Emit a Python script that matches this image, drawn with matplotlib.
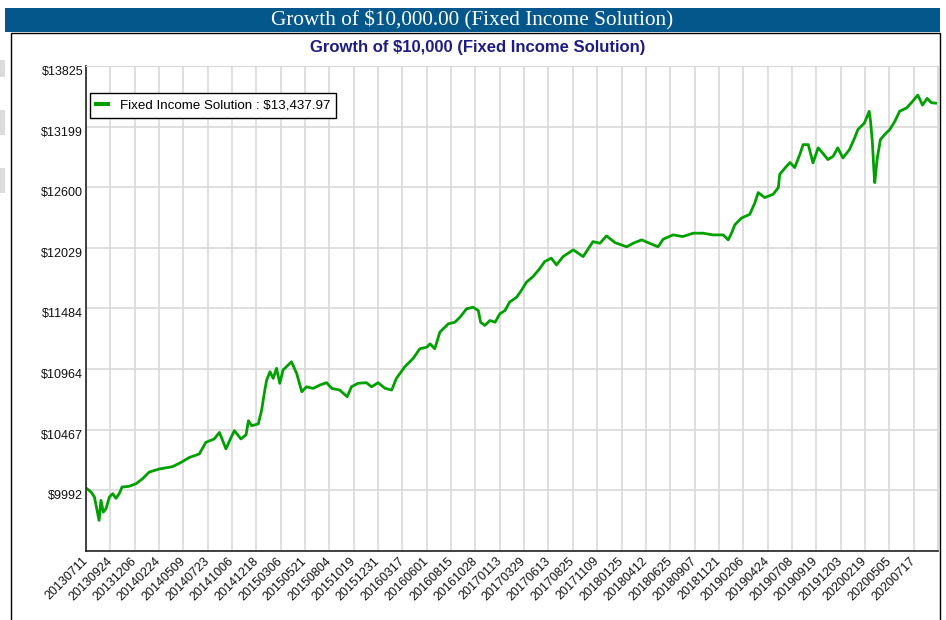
import numpy as np
from matplotlib import pyplot as plt
from matplotlib.patches import Rectangle
from matplotlib.ticker import FixedLocator, NullLocator

plt.rcParams['font.family'] = ['Liberation Sans', 'DejaVu Sans']

# trading-day index and account value
days = [0, 11, 18, 25, 28, 32, 37, 43, 50, 57, 64, 71, 77, 92, 107, 121, 135,
        157, 185, 203, 221, 242, 256, 274, 285, 299, 310, 317, 331, 342, 347,
        354, 368, 375, 382, 386, 393, 400, 407, 414, 421, 432, 439, 450, 461,
        471, 485, 500, 514, 525, 542, 558, 567, 581, 599, 610, 624, 639, 653,
        663, 671, 681, 699, 713, 728, 735, 745, 756, 774, 788, 799, 813, 827,
        838, 843, 852, 863, 874, 884, 895, 905, 920, 930, 941, 955, 970, 980,
        994, 1005, 1019, 1041, 1062, 1083, 1098, 1112, 1130, 1155, 1169, 1187,
        1204, 1222, 1233, 1254, 1275, 1297, 1318, 1340, 1361, 1372, 1379, 1386,
        1400, 1418, 1429, 1436, 1450, 1468, 1479, 1482, 1497, 1504, 1514, 1525,
        1532, 1543, 1553, 1564, 1574, 1585, 1596, 1606, 1617, 1631, 1642, 1649,
        1663, 1673, 1676, 1680, 1683, 1685, 1690, 1697, 1706, 1717, 1728, 1738,
        1753, 1763, 1777, 1787, 1797, 1806, 1815]
values = [10010, 9979, 9941, 9818, 9765, 9916, 9827, 9855, 9941, 9967, 9931,
          9967, 10017, 10023, 10043, 10082, 10133, 10157, 10175, 10208, 10247,
          10274, 10366, 10393, 10445, 10314, 10405, 10459, 10393, 10427, 10539,
          10499, 10513, 10620, 10789, 10872, 10941, 10886, 10970, 10845, 10956,
          10998, 11025, 10928, 10775, 10816, 10803, 10831, 10850, 10803, 10789,
          10734, 10816, 10845, 10850, 10816, 10850, 10803, 10789, 10886, 10928,
          10983, 11054, 11135, 11149, 11178, 11135, 11278, 11350, 11364, 11408,
          11481, 11495, 11466, 11364, 11336, 11379, 11364, 11437, 11466, 11540,
          11584, 11643, 11718, 11768, 11844, 11904, 11935, 11873, 11949, 12011,
          11949, 12087, 12072, 12140, 12078, 12039, 12072, 12103, 12072, 12039,
          12109, 12149, 12134, 12165, 12165, 12149, 12149, 12103, 12165, 12243,
          12306, 12342, 12453, 12549, 12501, 12533, 12597, 12726, 12807, 12841,
          12791, 12922, 13018, 13018, 12837, 12986, 12933, 12870, 12902, 12986,
          12886, 12969, 13085, 13169, 13236, 13354, 13253, 13035, 12775, 12645,
          12873, 13068, 13118, 13169, 13253, 13354, 13389, 13441, 13521, 13418,
          13487, 13442, 13438]

date_labels = ['20130711', '20130924', '20131206', '20140224', '20140509',
               '20140723', '20141006', '20141218', '20150306', '20150521',
               '20150804', '20151019', '20151231', '20160317', '20160601',
               '20160815', '20161028', '20170113', '20170329', '20170613',
               '20170825', '20171109', '20180125', '20180412', '20180625',
               '20180907', '20181121', '20190206', '20190424', '20190708',
               '20190919', '20191203', '20200219', '20200505', '20200717']
y_ticks = [9539, 9992, 10467, 10964, 11484, 12029, 12600, 13199, 13825]
step = 52

fig = plt.figure(figsize=(9.46, 6.2), dpi=100)

# page bits: grey tabs on the left edge, banner, chart panel
for y0, h in [(0.876, 0.027), (0.782, 0.040), (0.689, 0.040)]:
    fig.patches.append(Rectangle((0, y0), 0.005, h, transform=fig.transFigure,
                                 facecolor='#dcdcdc', edgecolor='none', zorder=0))
fig.patches.append(Rectangle((0.0053, 0.9484), 0.9884, 0.0387, transform=fig.transFigure,
                             facecolor='#04578b', edgecolor='none', zorder=0))
fig.text(0.4995, 0.9672, 'Growth of $10,000.00 (Fixed Income Solution)', color='white',
         family='Liberation Serif', fontsize=15.3, ha='center', va='center')
fig.patches.append(Rectangle((0.0116, -0.01), 0.982, 0.957, transform=fig.transFigure,
                             facecolor='none', edgecolor='black', lw=1.0, zorder=0))
fig.text(0.505, 0.924, 'Growth of $10,000 (Fixed Income Solution)', color='#1c1c84',
         fontsize=12, fontweight='bold', ha='center', va='center')

ax = fig.add_axes([0.0909, 0.1113, 0.9006, 0.7822])
ax.plot(days, values, color='#00a000', lw=2.0,
        label='Fixed Income Solution : $13,437.97')

ax.set_yscale('log')
ax.set_ylim(y_ticks[0], y_ticks[-1])
ax.yaxis.set_major_locator(FixedLocator(y_ticks))
ax.yaxis.set_minor_locator(NullLocator())
ax.set_yticklabels([''] + ['$%d' % v for v in y_ticks[1:]])
for lab in ax.get_yticklabels():
    lab.set_va('top')

ax.set_xlim(0, 35 * step)
ax.set_xticks(np.arange(0, 36) * step)
ax.set_xticklabels(date_labels + [''], rotation=45, ha='right', va='center',
                   rotation_mode='anchor')

ax.tick_params(axis='both', length=0, labelsize=9, colors='#111111')
ax.tick_params(axis='y', pad=2)
ax.tick_params(axis='x', pad=6)
ax.grid(True, color='#d9d9d9', lw=1.2)
ax.set_axisbelow(True)
for s in ['top', 'right']:
    ax.spines[s].set_color('#d9d9d9')
for s in ['left', 'bottom']:
    ax.spines[s].set_color('#222222')
    ax.spines[s].set_linewidth(1.2)

leg = ax.legend(loc='upper left', bbox_to_anchor=(0.0047, 0.944), borderaxespad=0,
                fontsize=9.6, fancybox=False, framealpha=1, handlelength=0.9,
                borderpad=0.45, handletextpad=0.9)
leg.get_frame().set_edgecolor('black')
leg.get_frame().set_linewidth(1.0)
for line in leg.get_lines():
    line.set_linewidth(3)

fig.savefig('out.png', dpi=100)
